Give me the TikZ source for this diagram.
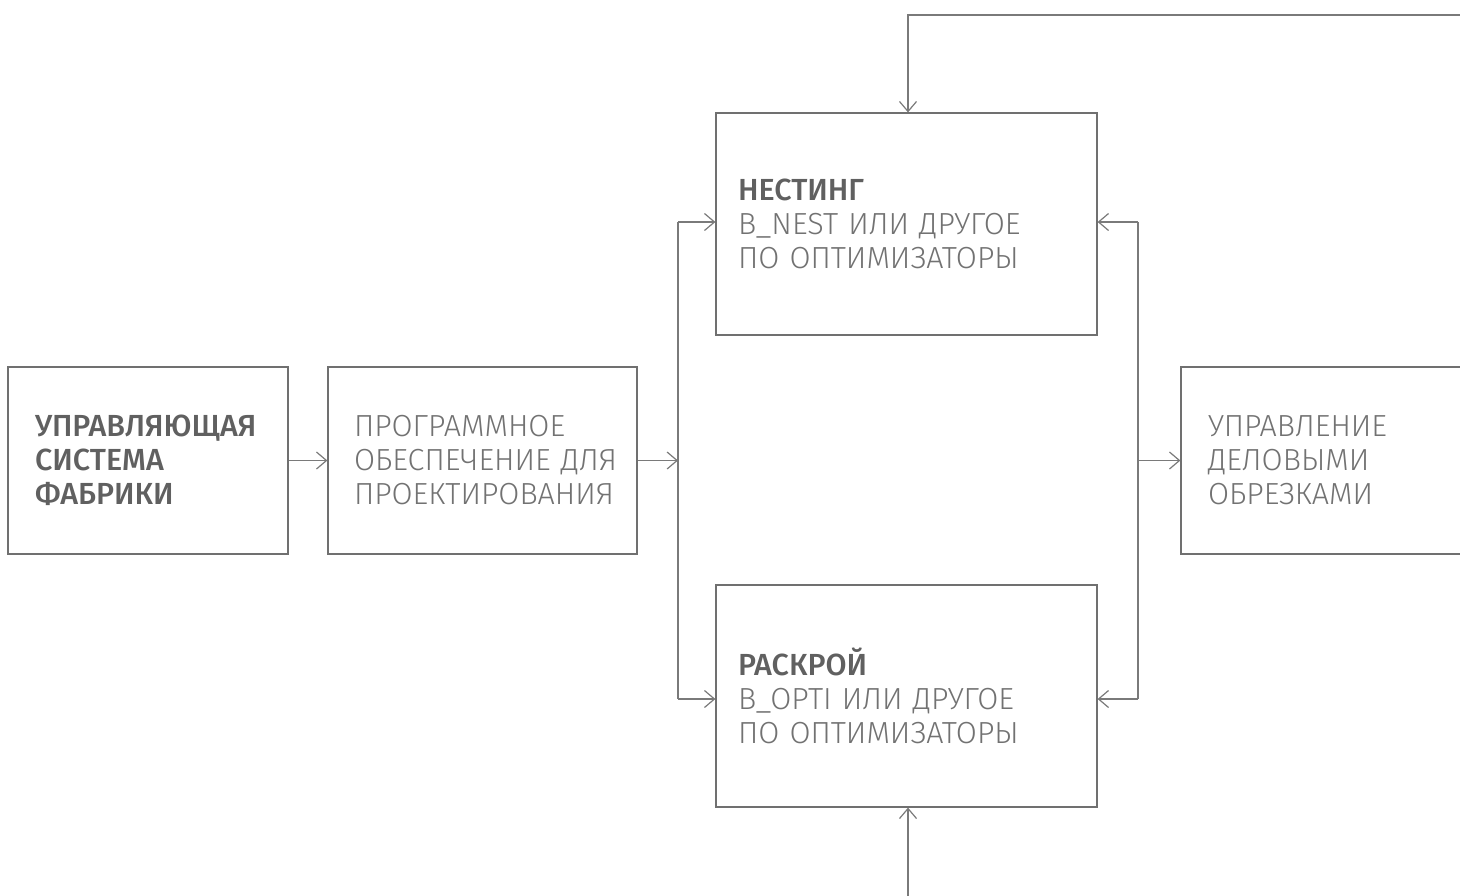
\documentclass[tikz,border=0pt]{standalone}
\usepackage{fontspec}
\setmainfont{Fira Sans}[UprightFont={* Light},BoldFont={* Medium}]
\usetikzlibrary{arrows.meta}
\definecolor{linegray}{HTML}{7A7A7A}
\definecolor{boxgray}{HTML}{707070}
\definecolor{txtdark}{HTML}{606060}
\definecolor{txtlight}{HTML}{727272}
\begin{document}
\begin{tikzpicture}[x=1pt,y=-1pt,
  box/.style={draw=boxgray,line width=1.2pt,minimum height=187pt,inner ysep=0pt,
    align=left,text=txtlight,font=\fontsize{30.5}{34}\selectfont},
  conn/.style={draw=linegray,line width=1.2pt},
  arr/.style={conn,-{Straight Barb[length=10pt,width=17pt,line width=1.2pt]}}]
\useasboundingbox (0,0) rectangle (1460,895);
\clip (0,0) rectangle (1460,895);
\node[box,minimum width=280pt,text width=226pt] (sys) at (148,460.5)
  {\textcolor{txtdark}{\bfseries УПРАВЛЯЮЩАЯ\\СИСТЕМА\\ФАБРИКИ}};
\node[box,minimum width=309pt,text width=257pt] (cad) at (482.5,460.5)
  {ПРОГРАММНОЕ\\\mbox{ОБЕСПЕЧЕНИЕ ДЛЯ}\\ПРОЕКТИРОВАНИЯ};
\node[box,minimum width=381pt,minimum height=222pt,text width=337pt] (nest) at (906.5,224)
  {\textcolor{txtdark}{\bfseries НЕСТИНГ}\\B\_NEST ИЛИ ДРУГОЕ\\ПО ОПТИМИЗАТОРЫ};
\node[box,minimum width=381pt,minimum height=222pt,text width=337pt] (cut) at (906.5,696)
  {\textcolor{txtdark}{\bfseries РАСКРОЙ}\\B\_OPTI ИЛИ ДРУГОЕ\\ПО ОПТИМИЗАТОРЫ};
\node[box,minimum width=330pt,text width=276pt] (rem) at (1346,460.5)
  {УПРАВЛЕНИЕ\\ДЕЛОВЫМИ\\ОБРЕЗКАМИ};
\coordinate (bl1) at (678,222);
\coordinate (bl2) at (678,699);
\coordinate (br1) at (1138,222);
\coordinate (br2) at (1138,699);
\coordinate (top1) at (908,15);
\coordinate (top2) at (1475,15);
\coordinate (bot) at (908,900);
\draw[arr] (sys.east) -- (cad.west);
\draw[arr] (cad.east) -- (cad.east -| bl1);
\draw[conn] (bl1) -- (bl2);
\draw[arr] (bl1) -- (bl1 -| nest.west);
\draw[arr] (bl2) -- (bl2 -| cut.west);
\draw[conn] (br1) -- (br2);
\draw[arr] (br1) -- (br1 -| nest.east);
\draw[arr] (br2) -- (br2 -| cut.east);
\draw[arr] (rem.west -| br1) -- (rem.west);
\draw[arr] (top2) -- (top1) -- (top1 |- nest.north);
\draw[arr] (bot) -- (bot |- cut.south);
\end{tikzpicture}
\end{document}
